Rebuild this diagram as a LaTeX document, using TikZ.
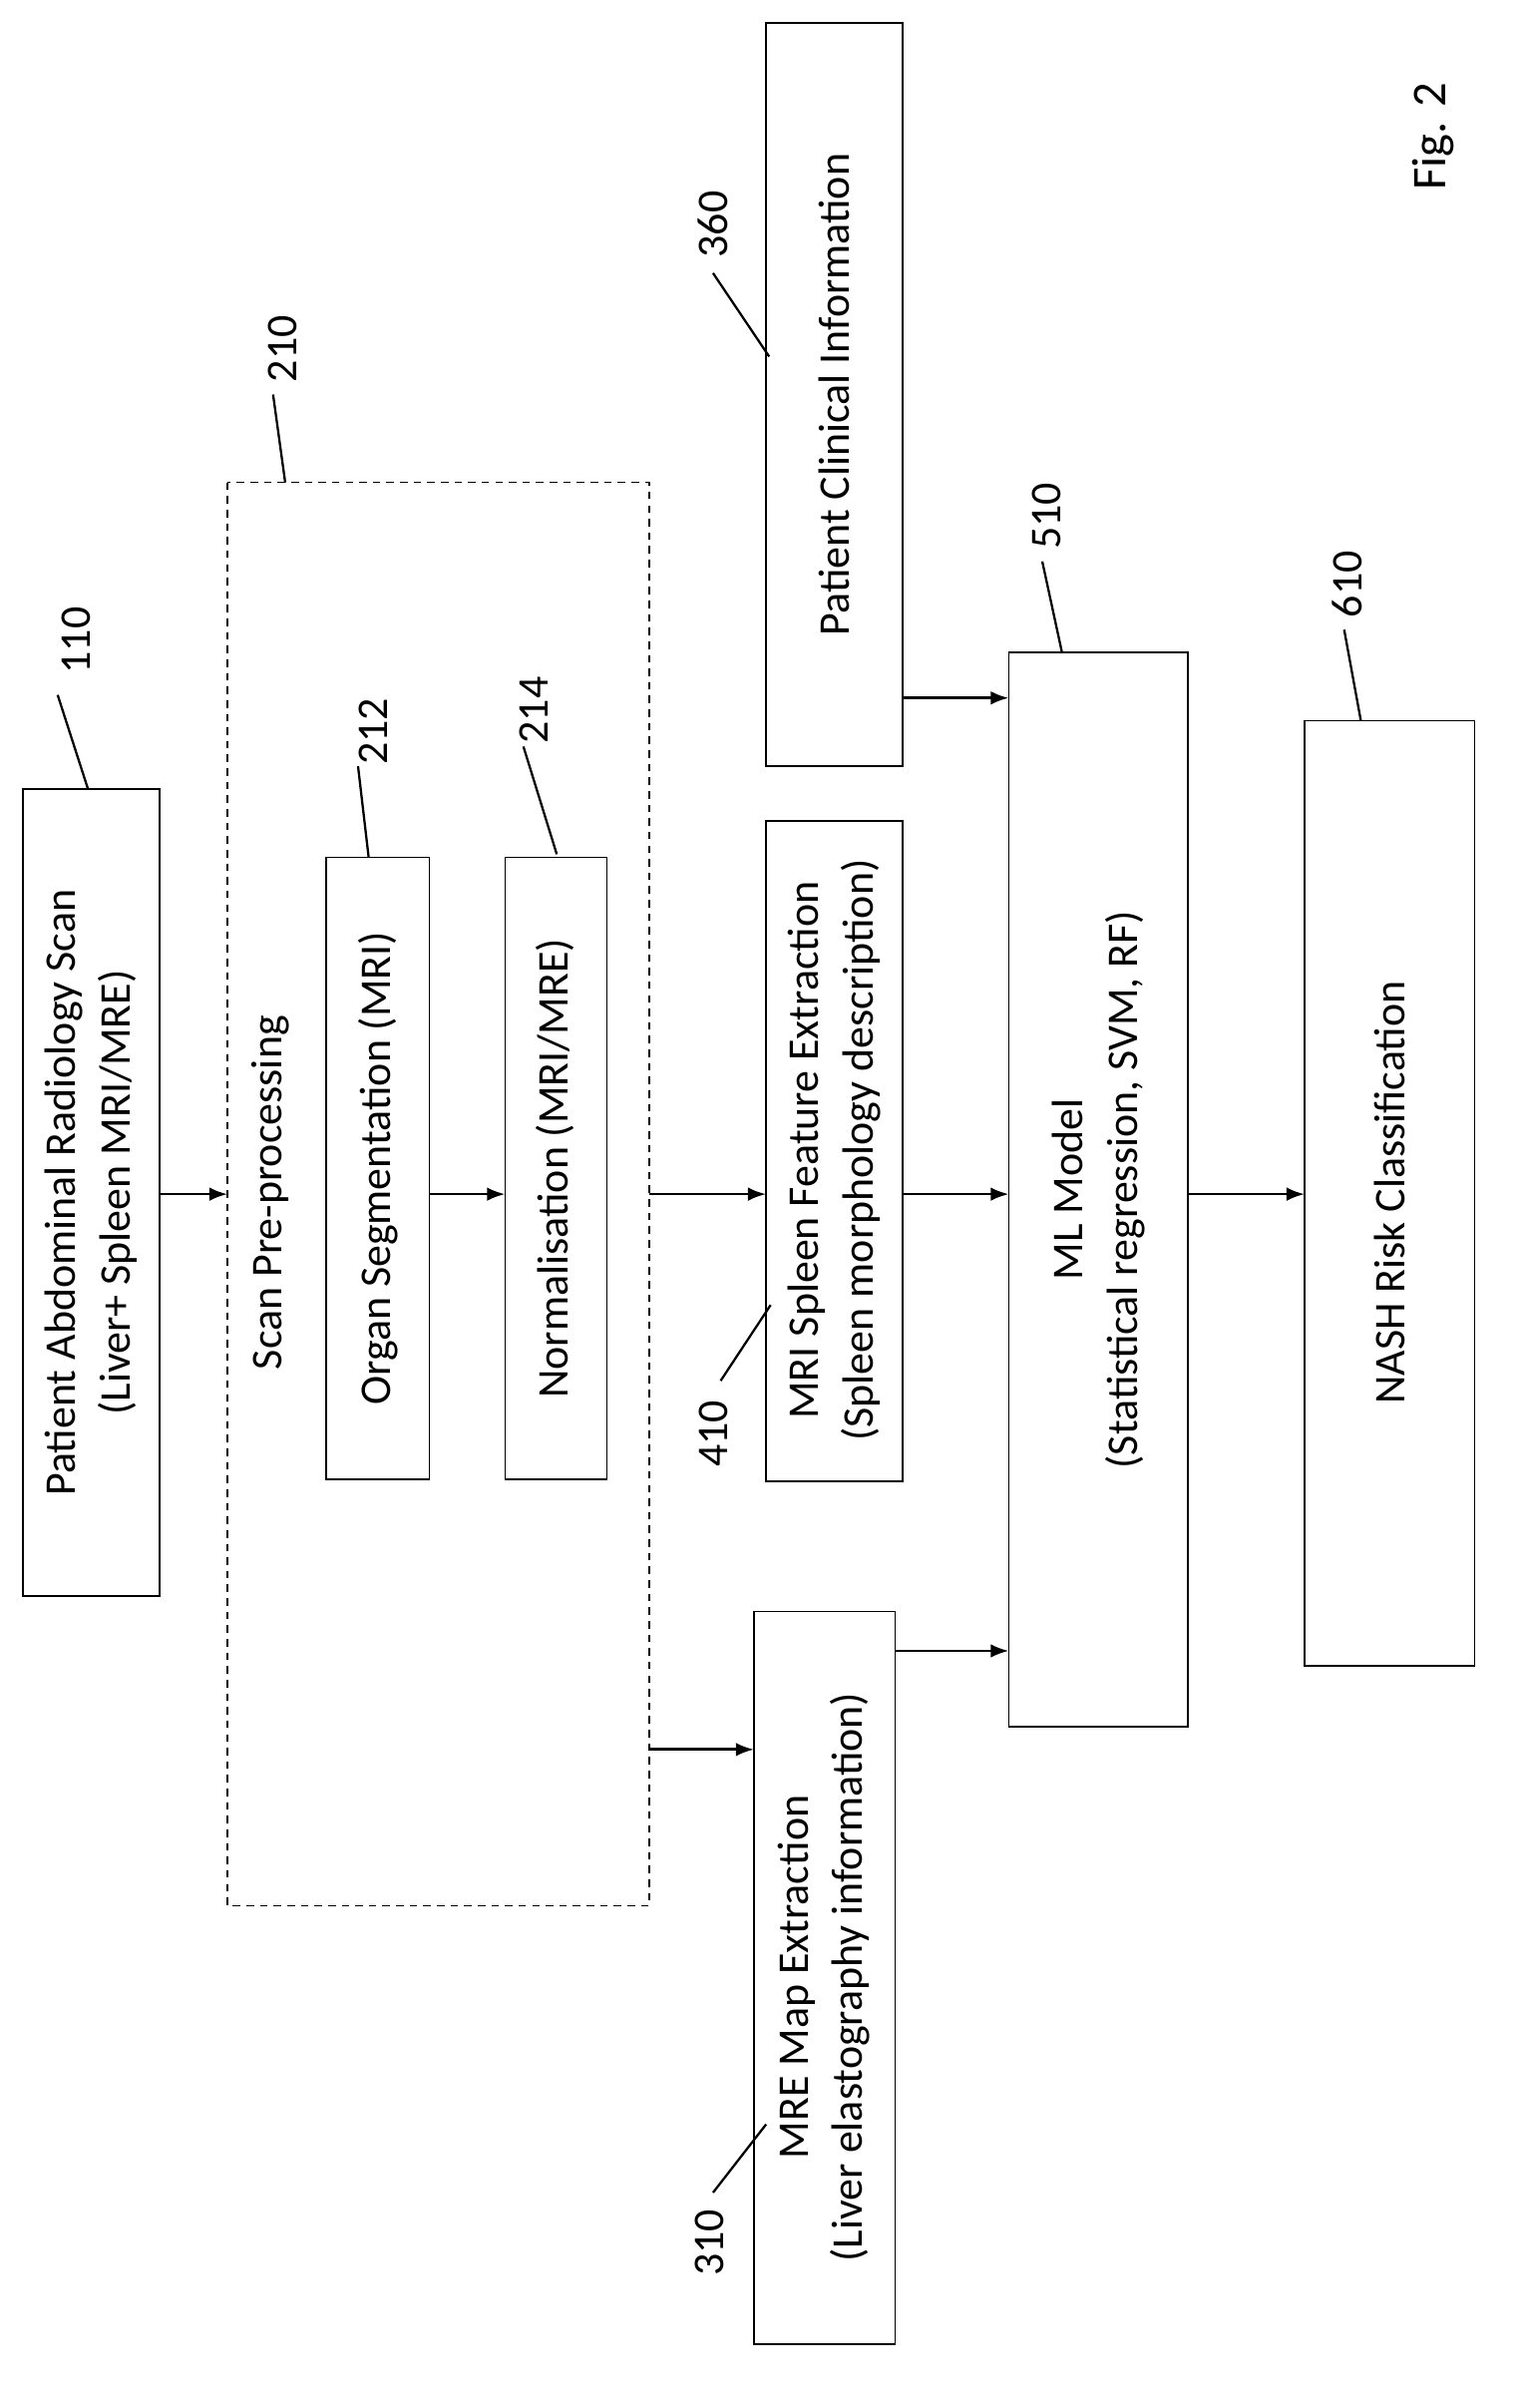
\documentclass[tikz,border=0pt]{standalone}
\usepackage{fontspec}
\setmainfont{Carlito}
\usetikzlibrary{arrows.meta}
\begin{document}
\begin{tikzpicture}[x=1bp,y=-1bp,
 box/.style={draw,line width=1.2pt},
 txt/.style={rotate=90,align=center,font=\fontsize{29}{36}\selectfont},
 num/.style={rotate=90,font=\fontsize{29}{34}\selectfont},
 arr/.style={line width=1.8pt,-{Latex[length=12pt,width=9pt]}},
 lead/.style={line width=1.5pt}]
\useasboundingbox (0,0) rectangle (1000,1587);
\draw[box] (15,520) rectangle (105,1052);
\node[txt] (t110) at (60,786) {Patient Abdominal Radiology Scan\\(Liver+ Spleen MRI/MRE)};
\draw[line width=1pt,dash pattern=on 5pt off 4pt] (150,318) rectangle (428,1256);
\node[txt] (t210) at (178,786) {Scan Pre-processing};
\draw[box] (215,565) rectangle (283,975);
\node[txt] (t212) at (249,770) {Organ Segmentation (MRI)};
\draw[box] (333,565) rectangle (400,975);
\node[txt] (t214) at (366,770) {Normalisation (MRI/MRE)};
\draw[box] (505,541) rectangle (595,976);
\node[txt] (t410) at (550,758) {MRI Spleen Feature Extraction\\(Spleen morphology description)};
\draw[box] (497,1062) rectangle (590,1545);
\node[txt] (t310) at (543,1303) {MRE Map Extraction\\(Liver elastography information)};
\draw[box] (505,15) rectangle (595,505);
\node[txt] (t360) at (550,260) {Patient Clinical Information};
\draw[box] (665,430) rectangle (783,1138);
\node[txt] (t510) at (724,784) {ML Model\\(Statistical regression, SVM, RF)};
\draw[box] (860,475) rectangle (972,1098);
\node[txt] (t610) at (916,786) {NASH Risk Classification};
\node[num,font=\fontsize{32}{36}\selectfont] at (945,90) {Fig. 2};
% arrows
\draw[arr] (105,787) -- (150,787);
\draw[arr] (283,787) -- (333,787);
\draw[arr] (428,787) -- (505,787);
\draw[arr] (595,787) -- (665,787);
\draw[arr] (783,787) -- (860,787);
\draw[arr] (428,1153) -- (497,1153);
\draw[arr] (595,460) -- (665,460);
\draw[arr] (590,1088) -- (665,1088);
% labels
\node[num] at (50,422) {110}; \draw[lead] (38,458) -- (58,520);
\node[num] at (186,230) {210}; \draw[lead] (180,260) -- (188,318);
\node[num] at (246,482) {212}; \draw[lead] (236,505) -- (243,565);
\node[num] at (352,468) {214}; \draw[lead] (345,492) -- (367,563);
\node[num] at (470,148) {360}; \draw[lead] (470,180) -- (507,235);
\node[num] at (690,340) {510}; \draw[lead] (687,370) -- (700,430);
\node[num] at (888,385) {610}; \draw[lead] (886,415) -- (897,475);
\node[num] at (470,945) {410}; \draw[lead] (475,910) -- (508,860);
\node[num] at (468,1478) {310}; \draw[lead] (470,1445) -- (505,1400);
\end{tikzpicture}
\end{document}
